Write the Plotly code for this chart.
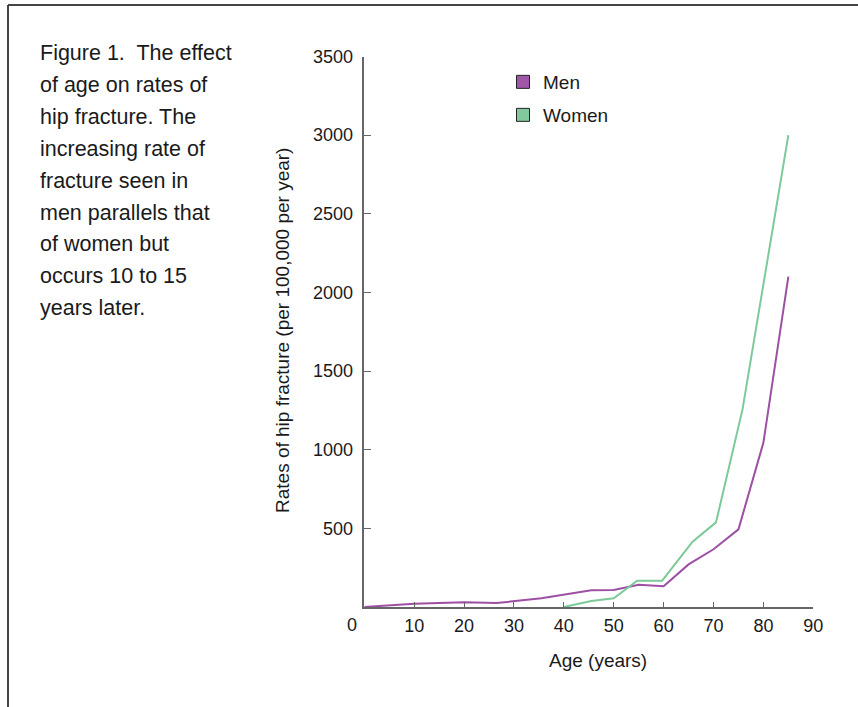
import plotly.graph_objects as go

# ---- data ----
men_age = [0, 10, 20, 26.5, 35.5, 45.5, 50, 55, 60, 65, 70, 75, 80, 85]
men_rate = [0, 21, 30, 25, 55, 106, 108, 142, 132, 271, 367, 494, 1045, 2100]
women_age = [40, 45.5, 50, 54.7, 59.7, 65.8, 70.5, 75.8, 85]
women_rate = [0, 38, 55, 167, 167, 415, 538, 1255, 3000]
x_tick_vals = [10, 20, 30, 40, 50, 60, 70, 80, 90]
y_tick_vals = [500, 1000, 1500, 2000, 2500, 3000, 3500]
series_names = ["Men", "Women"]
caption_lines = [
    "Figure 1.  The effect",
    "of age on rates of",
    "hip fracture. The",
    "increasing rate of",
    "fracture seen in",
    "men parallels that",
    "of women but",
    "occurs 10 to 15",
    "years later.",
]
x_title = "Age (years)"
y_title = "Rates of hip fracture (per 100,000 per year)"

# ---- styling ----
W, H = 858, 707
FONT = "Liberation Sans, Arial, Helvetica, sans-serif"
MEN_LINE = "#9c4fa3"
WOMEN_LINE = "#7cc99a"
MEN_FILL = "#a256aa"
WOMEN_FILL = "#82ca9e"
AXIS = "#666666"
TEXT = "#1a1a1a"


def px(x):
    return x / W


def py(y):
    return 1 - y / H


fig = go.Figure()

fig.add_trace(go.Scatter(x=men_age, y=men_rate, mode="lines",
                         line=dict(color=MEN_LINE, width=2), showlegend=False))
fig.add_trace(go.Scatter(x=women_age, y=women_rate, mode="lines",
                         line=dict(color=WOMEN_LINE, width=2), showlegend=False))

# legend entries (square swatches)
fig.add_trace(go.Scatter(x=[None], y=[None], mode="markers", name=series_names[0],
                         marker=dict(symbol="square", size=13, color=MEN_FILL,
                                     line=dict(color="#222222", width=1)),
                         legend="legend"))
fig.add_trace(go.Scatter(x=[None], y=[None], mode="markers", name=series_names[1],
                         marker=dict(symbol="square", size=13, color=WOMEN_FILL,
                                     line=dict(color="#222222", width=1)),
                         legend="legend2"))

annotations = []
# caption
for i, line in enumerate(caption_lines):
    annotations.append(dict(
        text=line, x=px(38), y=py(53 + 31.9 * i), xref="paper", yref="paper",
        xanchor="left", yanchor="middle", showarrow=False,
        font=dict(family=FONT, size=21.5, color=TEXT)))
# axis titles
annotations.append(dict(text=x_title, x=px(598), y=py(660), xref="paper", yref="paper",
                        xanchor="center", yanchor="middle", showarrow=False,
                        font=dict(family=FONT, size=19, color=TEXT)))
annotations.append(dict(text=y_title, x=px(282), y=py(331), xref="paper", yref="paper",
                        xanchor="center", yanchor="middle", showarrow=False, textangle=-90,
                        font=dict(family=FONT, size=19, color=TEXT)))
# the "0" origin label sits left of the origin
annotations.append(dict(text="0", x=px(352), y=py(625), xref="paper", yref="paper",
                        xanchor="center", yanchor="middle", showarrow=False,
                        font=dict(family=FONT, size=18, color=TEXT)))

shapes = [
    dict(type="line", xref="paper", yref="paper", x0=px(8), x1=px(870), y0=py(5), y1=py(5),
         line=dict(color="#444444", width=2)),
    dict(type="line", xref="paper", yref="paper", x0=px(8), x1=px(8), y0=py(5), y1=py(720),
         line=dict(color="#444444", width=2)),
]

fig.update_layout(
    width=W, height=H,
    margin=dict(l=0, r=0, t=0, b=0),
    paper_bgcolor="white", plot_bgcolor="white",
    font=dict(family=FONT, color=TEXT),
    annotations=annotations,
    shapes=shapes,
    xaxis=dict(
        domain=[px(364.3), px(813.3)], range=[0, 90], tickvals=x_tick_vals,
        ticks="inside", ticklen=5, tickwidth=1.2, tickcolor=AXIS,
        showline=True, linecolor=AXIS, linewidth=1.5,
        showgrid=False, zeroline=False, automargin=False,
        tickfont=dict(family=FONT, size=18, color=TEXT), ticklabelstandoff=2,
    ),
    yaxis=dict(
        domain=[py(607), py(56.5)], range=[0, 3500], tickvals=y_tick_vals,
        ticks="inside", ticklen=7, tickwidth=1.2, tickcolor=AXIS,
        showline=True, linecolor=AXIS, linewidth=1.5,
        showgrid=False, zeroline=False, automargin=False,
        tickfont=dict(family=FONT, size=18, color=TEXT), ticklabelstandoff=6,
    ),
    legend=dict(x=px(503), y=py(82), xanchor="left", yanchor="middle",
                bgcolor="rgba(0,0,0,0)", font=dict(family=FONT, size=19, color=TEXT),
                itemwidth=30),
    legend2=dict(x=px(503), y=py(115), xanchor="left", yanchor="middle",
                 bgcolor="rgba(0,0,0,0)", font=dict(family=FONT, size=19, color=TEXT),
                 itemwidth=30),
)

fig.write_html("out.html", config={"displayModeBar": False},
               post_script="document.body.style.margin='0px';")
